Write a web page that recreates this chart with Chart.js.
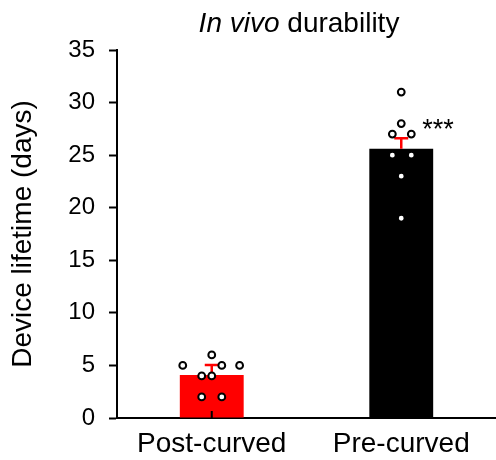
<!DOCTYPE html>
<html lang="en">
<head>
  <meta charset="UTF-8">
  <title>In vivo durability</title>
  <script src="https://cdn.jsdelivr.net/npm/chart.js"></script>
  <style>
    body { margin: 0; background: #fff; }
    #wrap { width: 496px; height: 460px; }
  </style>
</head>
<body>
  <div id="wrap"><canvas id="durabilityChart"></canvas></div>

  <script>
    // data
    const groups = ['Post-curved', 'Pre-curved'];
    const means = [4.1, 25.6];
    const errors = [0.95, 1.0];
    const postPoints = [6, 5, 5, 5, 4, 4, 2, 2];
    const prePoints = [31, 28, 27, 27, 25, 25, 23, 19];
    const significance = ['', '***'];
    const yTicks = [0, 5, 10, 15, 20, 25, 30, 35];

    // horizontal jitter of the dots, in category units
    const postJitter = [0, -0.153, 0.053, 0.147, -0.053, 0, -0.053, 0.053];
    const preJitter = [0, 0, -0.047, 0.053, -0.047, 0.053, 0, 0];

    const FONT = 'Arial, "Liberation Sans", sans-serif';

    const bars = means.map((m, i) => ({ x: i, y: m }));
    const dots = [];
    postPoints.forEach((v, i) => dots.push({ x: 0 + postJitter[i], y: v }));
    prePoints.forEach((v, i) => dots.push({ x: 1 + preJitter[i], y: v }));

    // red SEM bars (upper half only), inward x ticks, stars, title
    const extras = {
      id: 'extras',
      afterDatasetDraw(chart, args) {
        if (args.index !== 0) return;
        const { ctx, scales: { x, y } } = chart;
        ctx.save();
        ctx.strokeStyle = '#ff0000';
        ctx.lineWidth = 2.5;
        means.forEach((m, i) => {
          const px = x.getPixelForValue(i);
          const yTop = y.getPixelForValue(m + errors[i]);
          const yMid = y.getPixelForValue(m);
          ctx.beginPath();
          ctx.moveTo(px, yMid);
          ctx.lineTo(px, yTop);
          ctx.moveTo(px - 7, yTop);
          ctx.lineTo(px + 7, yTop);
          ctx.stroke();
        });
        ctx.restore();
      },
      afterDraw(chart) {
        const { ctx, scales: { x, y }, chartArea } = chart;
        ctx.save();
        ctx.strokeStyle = '#000';
        ctx.lineWidth = 2;
        groups.forEach((g, i) => {
          const px = x.getPixelForValue(i);
          ctx.beginPath();
          ctx.moveTo(px, chartArea.bottom);
          ctx.lineTo(px, chartArea.bottom - 7);
          ctx.stroke();
        });
        ctx.fillStyle = '#000';
        ctx.font = '27px ' + FONT;
        ctx.textAlign = 'left';
        ctx.textBaseline = 'middle';
        significance.forEach((s, i) => {
          if (!s) return;
          const px = x.getPixelForValue(i);
          const py = y.getPixelForValue(means[i] + errors[i]);
          ctx.fillText(s, px + 21, py - 8);
        });
        const part1 = 'In vivo';
        const part2 = ' durability';
        ctx.font = 'italic 28px ' + FONT;
        const w1 = ctx.measureText(part1).width;
        ctx.font = '28px ' + FONT;
        const w2 = ctx.measureText(part2).width;
        const startX = 299 - (w1 + w2) / 2;
        ctx.textBaseline = 'alphabetic';
        ctx.font = 'italic 28px ' + FONT;
        ctx.fillText(part1, startX, 32);
        ctx.font = '28px ' + FONT;
        ctx.fillText(part2, startX + w1, 32);
        ctx.restore();
      }
    };

    const ctx = document.getElementById('durabilityChart').getContext('2d');
    new Chart(ctx, {
      type: 'scatter',
      data: {
        datasets: [
          {
            type: 'bar',
            data: bars,
            backgroundColor: ['#ff0000', '#000000'],
            borderWidth: 0,
            barPercentage: 0.337,
            categoryPercentage: 1,
            order: 2
          },
          {
            type: 'scatter',
            data: dots,
            pointRadius: 3.4,
            pointBorderWidth: 2,
            pointBackgroundColor: '#ffffff',
            pointBorderColor: '#000000',
            order: 1
          }
        ]
      },
      options: {
        responsive: true,
        maintainAspectRatio: false,
        animation: false,
        events: [],
        layout: { autoPadding: false, padding: { top: 50, right: 0, bottom: 0, left: 0 } },
        plugins: {
          legend: { display: false },
          tooltip: { enabled: false },
          title: { display: false }
        },
        scales: {
          x: {
            type: 'linear',
            min: -0.5,
            max: 1.5,
            offset: false,
            afterBuildTicks(scale) { scale.ticks = groups.map((g, i) => ({ value: i })); },
            grid: { display: false },
            border: { display: true, color: '#000', width: 2 },
            ticks: {
              color: '#000',
              font: { family: FONT, size: 28 },
              padding: 1,
              maxRotation: 0,
              callback: (v) => groups[v]
            },
            afterFit(scale) {
              scale.height = 42;
              scale.paddingLeft = 0;
              scale.paddingRight = 0;
            }
          },
          y: {
            min: 0,
            max: 35,
            afterBuildTicks(scale) { scale.ticks = yTicks.map(v => ({ value: v })); },
            grid: {
              drawOnChartArea: false,
              drawTicks: true,
              tickLength: 8,
              tickWidth: 2,
              tickColor: '#000'
            },
            border: { display: true, color: '#000', width: 2 },
            ticks: {
              color: '#000',
              font: { family: FONT, size: 24 },
              padding: 14
            },
            title: {
              display: true,
              text: 'Device lifetime (days)',
              color: '#000',
              font: { family: FONT, size: 28 },
              padding: { top: 6, bottom: 0 }
            },
            afterFit(scale) { scale.width = 117; }
          }
        }
      },
      plugins: [extras]
    });
  </script>
</body>
</html>
